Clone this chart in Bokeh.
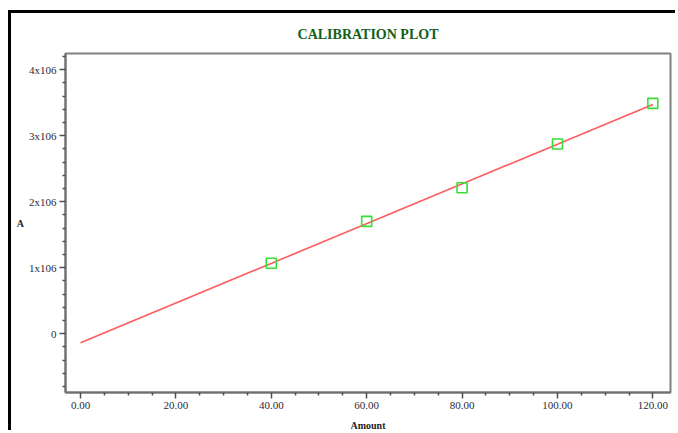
import numpy as np
from bokeh.plotting import figure
from bokeh.models import FixedTicker, NumeralTickFormatter, Range1d
from bokeh.embed import file_html
from bokeh.resources import INLINE

# Calibration standards: amount injected vs. measured response
amount = [40, 60, 80, 100, 120]
response = [1.068e6, 1.702e6, 2.21e6, 2.875e6, 3.49e6]

y_tick_values = [0, 1e6, 2e6, 3e6, 4e6]
y_tick_labels = ["0", "1x106", "2x106", "3x106", "4x106"]
x_tick_values = [0, 20, 40, 60, 80, 100, 120]

SERIF = "Liberation Serif"

# least-squares calibration line, drawn from the origin to the last standard
slope, intercept = np.polyfit(amount, response, 1)
fit_x = [0, 120]
fit_y = [intercept + slope * v for v in fit_x]

p = figure(
    width=667, height=420,
    output_backend="svg", toolbar_location=None,
    x_range=Range1d(-3.15, 123.7), y_range=Range1d(-0.891e6, 4.245e6),
    min_border_left=54, min_border_right=8, min_border_top=40, min_border_bottom=40,
    margin=(10, 0, 0, 8),
    styles={"border-left": "3px solid black", "border-top": "3px solid black"},
    background_fill_color="white", border_fill_color="white",
)
p.grid.visible = False
p.outline_line_color = "#808080"
p.outline_line_width = 2

p.title.text = "CALIBRATION PLOT"
p.title.align = "center"
p.title.offset = -10
p.title.standoff = 23
p.title.text_font = SERIF
p.title.text_font_style = "bold"
p.title.text_font_size = "14px"
p.title.text_color = "#12601a"

p.line(fit_x, fit_y, line_color="#ff5c5c", line_width=1.6)
p.scatter(amount, response, marker="square", size=10, fill_color=None,
          line_color="#33e033", line_width=1.6)

minor_x = [v for v in range(5, 120, 5) if v % 20]
p.xaxis.ticker = FixedTicker(ticks=x_tick_values, minor_ticks=minor_x)
p.xaxis.formatter = NumeralTickFormatter(format="0.00")
p.xaxis.axis_label = "Amount"
p.xaxis.axis_label_standoff = 8

minor_y = [k * 0.2e6 for k in range(-4, 22) if k % 5]
p.yaxis.ticker = FixedTicker(ticks=y_tick_values, minor_ticks=minor_y)
p.yaxis.major_label_overrides = dict(zip(y_tick_values, y_tick_labels))
p.yaxis.axis_label = "A"
p.yaxis.axis_label_standoff = 2
if "axis_label_orientation" in p.yaxis[0].properties():
    p.yaxis.axis_label_orientation = "horizontal"

for ax in (p.xaxis[0], p.yaxis[0]):
    ax.axis_line_color = "#707070"
    ax.axis_line_width = 2
    ax.major_tick_line_color = "#505050"
    ax.minor_tick_line_color = "#505050"
    ax.major_tick_line_width = 1.5
    ax.minor_tick_line_width = 1.5
    ax.major_tick_out = 6
    ax.major_tick_in = 0
    ax.minor_tick_out = 3
    ax.minor_tick_in = 0
    ax.major_label_text_font = SERIF
    ax.major_label_text_font_size = "11px"
    ax.major_label_text_color = "#2a2a3a"
    ax.major_label_standoff = 3
    ax.axis_label_text_font = SERIF
    ax.axis_label_text_font_style = "bold"
    ax.axis_label_text_font_size = "10px"
    ax.axis_label_text_color = "#222222"

open("out.html", "w").write(file_html(p, INLINE))
